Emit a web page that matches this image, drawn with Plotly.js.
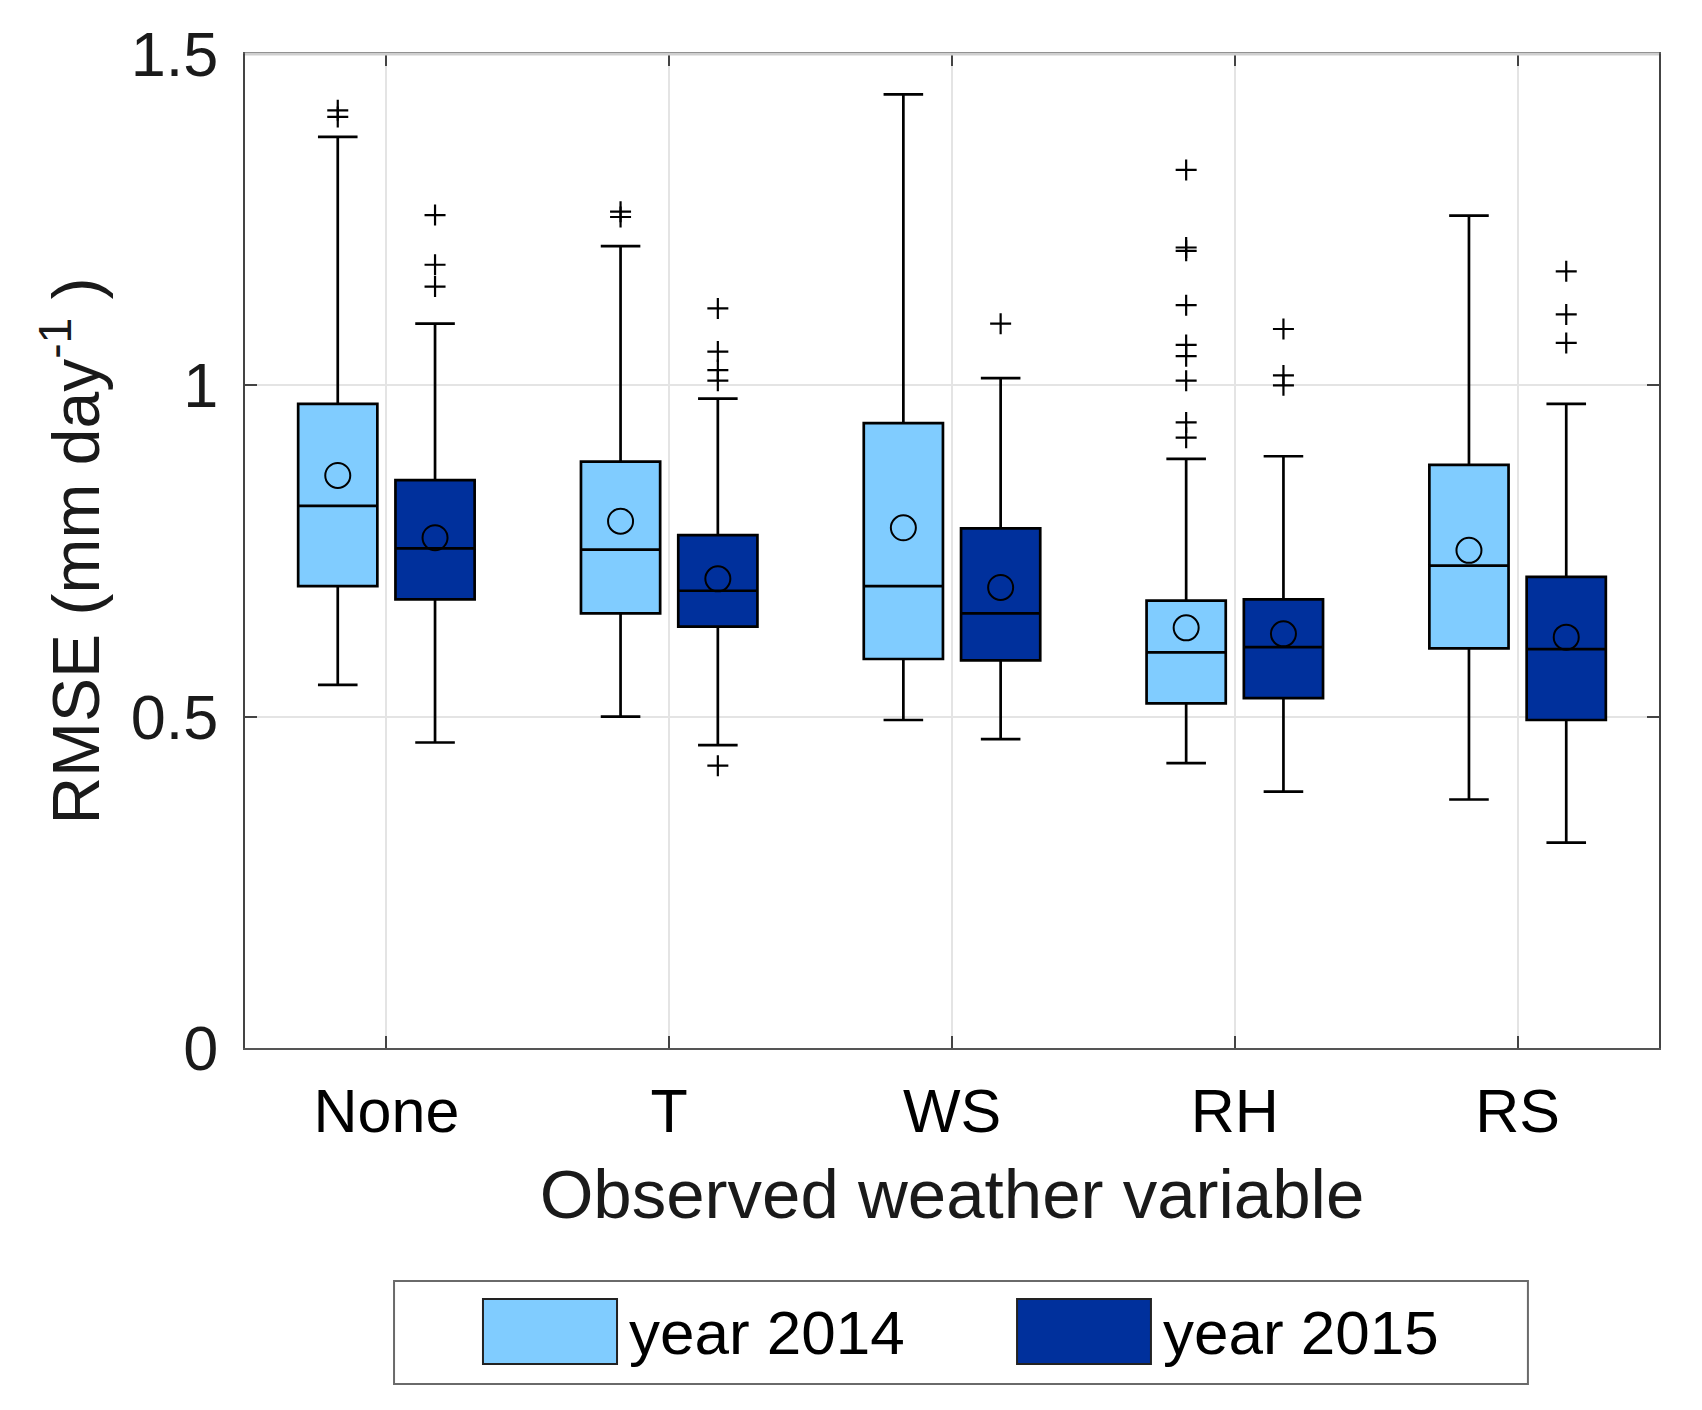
<!DOCTYPE html>
<html>
<head>
<meta charset="utf-8">
<script src="https://cdn.plot.ly/plotly-3.0.1.min.js"></script>
<style>html,body{margin:0;padding:0;background:#fff;}#chart{width:1702px;height:1410px;}</style>
</head>
<body>
<div id="chart"></div>
<script>
// ---- data ----
const categories = ["None", "T", "WS", "RH", "RS"];

// year 2014
const q1_2014     = [0.697, 0.656, 0.587, 0.520, 0.603];
const median_2014 = [0.818, 0.752, 0.697, 0.597, 0.728];
const q3_2014     = [0.972, 0.885, 0.943, 0.675, 0.880];
const lower_2014  = [0.548, 0.500, 0.495, 0.430, 0.375];
const upper_2014  = [1.375, 1.210, 1.439, 0.889, 1.256];
const mean_2014   = [0.864, 0.795, 0.785, 0.634, 0.751];
const outliers_2014 = [
  [1.405, 1.415],
  [1.254, 1.262],
  [],
  [1.325, 1.208, 1.203, 1.121, 1.061, 1.044, 1.007, 0.944, 0.921],
  []
];

// year 2015
const q1_2015     = [0.677, 0.636, 0.585, 0.528, 0.495];
const median_2015 = [0.754, 0.690, 0.656, 0.605, 0.602];
const q3_2015     = [0.857, 0.774, 0.784, 0.677, 0.711];
const lower_2015  = [0.461, 0.457, 0.466, 0.387, 0.310];
const upper_2015  = [1.093, 0.980, 1.011, 0.893, 0.972];
const mean_2015   = [0.770, 0.708, 0.695, 0.625, 0.620];
const outliers_2015 = [
  [1.257, 1.182, 1.149],
  [1.116, 1.051, 1.023, 1.007, 0.426],
  [1.093],
  [1.085, 1.015, 1.000],
  [1.172, 1.107, 1.064]
];

const seriesNames = ["year 2014", "year 2015"];
const tickVals = [0, 0.5, 1, 1.5];
const tickText = ["0", "0.5", "1", "1.5"];

// ---- styling ----
const FONT = "Liberation Sans, Arial, sans-serif";
const LIGHT = "#80CCFF";
const DARK = "#00309C";
const OFFSET = 0.172;
const BOXW = 0.28;

const pos = categories.map((c, i) => i + 1);
const x14 = pos.map(p => p - OFFSET);
const x15 = pos.map(p => p + OFFSET);

function boxTrace(name, xs, q1, med, q3, lo, up, fill) {
  return {
    type: "box", name: name, x: xs,
    q1: q1, median: med, q3: q3, lowerfence: lo, upperfence: up,
    width: BOXW, whiskerwidth: 0.5,
    fillcolor: fill, line: {color: "#000", width: 2.7},
    boxpoints: false, hoverinfo: "skip", showlegend: false
  };
}

function outlierTrace(xs, outs) {
  const ox = [], oy = [];
  outs.forEach((arr, i) => arr.forEach(v => { ox.push(xs[i]); oy.push(v); }));
  return {
    type: "scatter", mode: "markers", x: ox, y: oy, showlegend: false,
    marker: {symbol: "cross-thin-open", size: 15, color: "#000", line: {color: "#000", width: 2.2}},
    hoverinfo: "skip"
  };
}

function meanTrace(xs, means) {
  return {
    type: "scatter", mode: "markers", x: xs, y: means, showlegend: false,
    marker: {symbol: "circle-open", size: 25, color: "#000", line: {color: "#000", width: 2}},
    hoverinfo: "skip"
  };
}

const data = [
  boxTrace(seriesNames[0], x14, q1_2014, median_2014, q3_2014, lower_2014, upper_2014, LIGHT),
  boxTrace(seriesNames[1], x15, q1_2015, median_2015, q3_2015, lower_2015, upper_2015, DARK),
  outlierTrace(x14, outliers_2014),
  outlierTrace(x15, outliers_2015),
  meanTrace(x14, mean_2014),
  meanTrace(x15, mean_2015)
];

// manual legend (large swatches like the reference)
const legendShapes = [
  {type: "rect", xref: "paper", yref: "paper", x0: 0.1054, x1: 0.9073, y0: -0.2344, y1: -0.338,
   line: {color: "#6a6a6a", width: 2}, fillcolor: "#fff"},
  {type: "rect", xref: "paper", yref: "paper", x0: 0.1683, x1: 0.2631, y0: -0.2525, y1: -0.3179,
   line: {color: "#222", width: 2}, fillcolor: LIGHT},
  {type: "rect", xref: "paper", yref: "paper", x0: 0.546, x1: 0.6407, y0: -0.2525, y1: -0.3179,
   line: {color: "#222", width: 2}, fillcolor: DARK},
  {type: "line", xref: "paper", yref: "paper", x0: 0, x1: 1, y0: 1, y1: 1,
   line: {color: "#cfcfcf", width: 3}, layer: "above"}
];
const legendAnn = [
  {xref: "paper", yref: "paper", x: 0.270, y: -0.2867, xanchor: "left", yanchor: "middle",
   text: seriesNames[0], showarrow: false, font: {family: FONT, size: 62, color: "#000"}},
  {xref: "paper", yref: "paper", x: 0.648, y: -0.2867, xanchor: "left", yanchor: "middle",
   text: seriesNames[1], showarrow: false, font: {family: FONT, size: 62, color: "#000"}}
];

const layout = {
  width: 1702, height: 1410,
  margin: {l: 245, r: 43, t: 54, b: 362},
  paper_bgcolor: "#fff", plot_bgcolor: "#fff",
  font: {family: FONT, color: "#1a1a1a"},
  showlegend: false,
  xaxis: {
    range: [0.5, 5.5], tickmode: "array", tickvals: pos, ticktext: categories,
    tickfont: {family: FONT, size: 61, color: "#000"},
    showline: true, linecolor: "#555", linewidth: 2, mirror: "ticks",
    ticks: "inside", ticklen: 12, tickcolor: "#444", tickwidth: 2,
    showgrid: true, gridcolor: "#e4e4e4", gridwidth: 2, zeroline: false,
    ticklabelstandoff: 9,
    title: {text: "Observed weather variable", font: {family: FONT, size: 69, color: "#1a1a1a"}, standoff: 25}
  },
  yaxis: {
    range: [0, 1.5], tickmode: "array", tickvals: tickVals, ticktext: tickText,
    tickfont: {family: FONT, size: 63, color: "#1a1a1a"},
    showline: true, linecolor: "#444", linewidth: 2, mirror: "ticks",
    ticks: "inside", ticklen: 12, tickcolor: "#444", tickwidth: 2,
    showgrid: true, gridcolor: "#e4e4e4", gridwidth: 2, zeroline: false,
    ticklabelstandoff: 12,
    title: {text: "RMSE (mm day<sup>-1</sup> )", font: {family: FONT, size: 66, color: "#1a1a1a"}, standoff: 10}
  },
  shapes: legendShapes,
  annotations: legendAnn
};

Plotly.newPlot("chart", data, layout, {staticPlot: true, displayModeBar: false});
</script>
</body>
</html>
